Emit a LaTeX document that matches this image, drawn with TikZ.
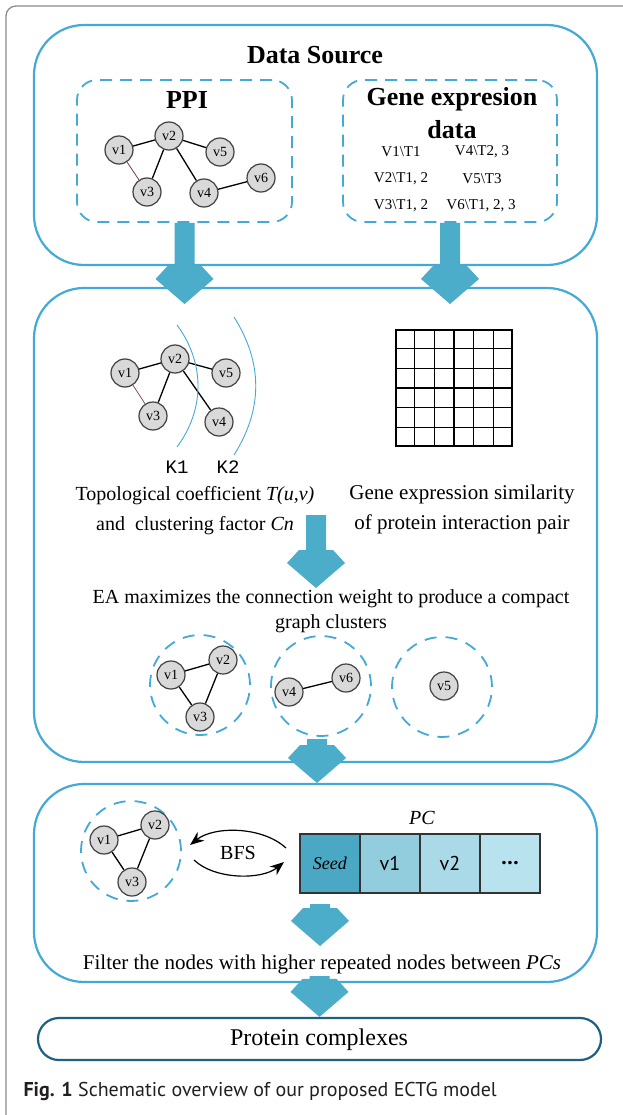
\documentclass[tikz,border=0pt]{standalone}
\usepackage{fontspec}
\setmainfont{Liberation Serif}
\setsansfont{PT Sans}
\setmonofont{Liberation Mono}
\usepackage{tikz}
\usetikzlibrary{calc,positioning,arrows.meta}
\definecolor{boxblue}{HTML}{43A9D6}
\definecolor{arrowblue}{HTML}{4BADC9}
\definecolor{edgered}{HTML}{7A3B3B}
\definecolor{seedcol}{HTML}{4AA8C4}
\definecolor{pcone}{HTML}{92CDDE}
\definecolor{pctwo}{HTML}{AADAE8}
\definecolor{pcdots}{HTML}{B8E2ED}
\definecolor{finalteal}{HTML}{1F5F7F}
\definecolor{framegray}{HTML}{8A8A8A}
\definecolor{captext}{HTML}{231F20}
\newcommand{\fs}[1]{\fontsize{#1}{#1}\selectfont}
\newcommand{\drawFatArrow}[2]
{
	\fill[arrowblue] ($(#1)+(-10,0)$) -- ($(#2)+(-10,-38)$) -- ($(#2)+(-17,-38)$) -- ($(#2)+(-29,-25)$) -- (#2)
		-- ($(#2)+(29,-25)$) -- ($(#2)+(17,-38)$) -- ($(#2)+(10,-38)$) -- ($(#1)+(10,0)$) -- cycle;
}
\begin{document}
\begin{tikzpicture}[x=1pt,y=-1pt,
	bigbox/.style={draw=boxblue,line width=2.2,rounded corners=50,minimum width=563,inner sep=0},
	dashbox/.style={draw=boxblue,line width=1.8,dash pattern=on 12pt off 8pt,rounded corners=20,minimum width=215,minimum height=142,inner sep=0},
	ring/.style={circle,draw=boxblue,line width=1.8,dash pattern=on 12pt off 9pt,minimum size=100,inner sep=0},
	vnode/.style={circle,draw=black!75,fill=black!15,line width=1.2,minimum size=28,inner sep=0,font=\fs{14}},
	link/.style={line width=1.3},
	thinlink/.style={line width=0.7,color=edgered},
	karc/.style={line width=0.9,color=boxblue},
	pccell/.style={draw=black!80,line width=1.5,minimum width=60,minimum height=59,inner sep=0,outer sep=0},
	bfsarrow/.style={line width=1.2,-{Stealth[length=14pt,width=11pt]}},
	datatext/.style={font=\fs{15}}]
\useasboundingbox (0,0) rectangle (622,1115);
\draw[framegray,line width=1.3,rounded corners=10] (6,1120) -- (6,6) -- (630,6);

% data source
\node[bigbox,minimum height=240] (source) at (315.5,145) {};
\node[font=\fs{26}\bfseries] (sourcetitle) at (315,55) {Data Source};
\node[dashbox] (ppi) at (184.5,151) {};
\node[dashbox,minimum width=214] (gene) at (450,151) {};
\node[font=\fs{26}\bfseries] (ppititle) at (187,100) {PPI};
\node[font=\fontsize{26}{33}\selectfont\bfseries,align=center] (genetitle) at (452,113) {Gene expresion\\data};

\node[vnode] (p1) at (119,150) {v1};
\node[vnode] (p2) at (169,136) {v2};
\node[vnode] (p5) at (220,152) {v5};
\node[vnode] (p6) at (261,178) {v6};
\node[vnode] (p3) at (147,192) {v3};
\node[vnode] (p4) at (204,193) {v4};
\draw[link] (p1) -- (p2) (p2) -- (p3) (p2) -- (p4) (p2) -- (p5) (p4) -- (p6);
\draw[thinlink] (p1) -- (p3);

\node[datatext] (d1) at (401,152) {V1\textbackslash T1};
\node[datatext] (d4) at (482,152) {V4\textbackslash T2, 3};
\node[datatext] (d2) at (401,179) {V2\textbackslash T1, 2};
\node[datatext] (d5) at (482,179) {V5\textbackslash T3};
\node[datatext] (d3) at (401,206) {V3\textbackslash T1, 2};
\node[datatext] (d6) at (481,206) {V6\textbackslash T1, 2, 3};

% scoring
\node[bigbox,minimum height=474] (scoring) at (315.5,525) {};
\node[vnode] (k1) at (125,373) {v1};
\node[vnode] (k2) at (175,359) {v2};
\node[vnode] (k5) at (226,373) {v5};
\node[vnode] (k3) at (153,416) {v3};
\node[vnode] (k4) at (219,422) {v4};
\draw[link] (k1) -- (k2) (k2) -- (k3) (k2) -- (k4) (k2) -- (k5);
\draw[thinlink] (k1) -- (k3);
\draw[karc] (177,325) .. controls (205,363) and (205,409) .. (177,447);
\draw[karc] (234,317) .. controls (263,363) and (263,409) .. (234,455);
\node[font=\ttfamily\fs{19}] (kone) at (177,467) {K1};
\node[font=\ttfamily\fs{19}] (ktwo) at (228,467) {K2};
\node[font=\fontsize{20}{30}\selectfont,align=center] (topo) at (195,511) {Topological coefficient \textit{T(u,v)}\\and\ \ clustering factor \textit{Cn}};

\node[draw,line width=2.2,minimum size=116,inner sep=0] (simgrid) at (454,388) {};
\foreach \i in {1,...,5}
{
	\draw[line width=1.1] ($(simgrid.north west)!\i/6!(simgrid.north east)$) -- ($(simgrid.south west)!\i/6!(simgrid.south east)$);
	\draw[line width=1.1] ($(simgrid.north west)!\i/6!(simgrid.south west)$) -- ($(simgrid.north east)!\i/6!(simgrid.south east)$);
}
\node[font=\fontsize{21}{30}\selectfont,align=center] (simtext) at (462,509) {Gene expression similarity\\of protein interaction pair};

\node[font=\fontsize{20}{25}\selectfont,align=center] (eatext) at (331,611) {EA maximizes the connection weight to produce a compact\\graph clusters};
\node[ring] (g1) at (200,685) {};
\node[ring] (g2) at (321,686) {};
\node[ring] (g3) at (442,687) {};
\node[vnode] (c1) at (171,675) {v1};
\node[vnode] (c2) at (223,660) {v2};
\node[vnode] (c3) at (200,717) {v3};
\node[vnode] (c4) at (289,692) {v4};
\node[vnode] (c6) at (346,678) {v6};
\node[vnode] (c5) at (444,686) {v5};
\draw[link] (c1) -- (c2) (c1) -- (c3) (c2) -- (c3) (c4) -- (c6);

% expansion
\node[bigbox,minimum height=198] (expand) at (315.5,883) {};
\node[ring] (g0) at (131,851) {};
\node[vnode] (b1) at (104,840) {v1};
\node[vnode] (b2) at (155,825) {v2};
\node[vnode] (b3) at (132,882) {v3};
\draw[link] (b1) -- (b2) (b1) -- (b3) (b2) -- (b3);

\coordinate (bfsR1) at (286,848);
\coordinate (bfsL1) at (190,845);
\coordinate (bfsL2) at (194,860);
\coordinate (bfsR2) at (284,862);
\draw[bfsarrow] (bfsR1) .. controls (262,826) and (214,826) .. (bfsL1);
\draw[bfsarrow] (bfsL2) .. controls (215,880) and (262,880) .. (bfsR2);
\node[font=\fs{20}] (bfs) at (238,853) {BFS};

\node[pccell,fill=seedcol,font=\fs{18}] (seed) at (330,863.5) {\textit{Seed}};
\node[pccell,fill=pcone,font=\sffamily\fs{20},right=0pt of seed] (pc1) {v1};
\node[pccell,fill=pctwo,font=\sffamily\fs{20},right=0pt of pc1] (pc2) {v2};
\node[pccell,fill=pcdots,font=\sffamily\fs{22}\bfseries,right=0pt of pc2] (pc3) {\ldots};
\node[font=\fs{20}\itshape] (pclabel) at (422,818) {PC};
\node[font=\fs{21}] (filter) at (322,964) {Filter the nodes with higher repeated nodes between \textit{PCs}};

% result
\node[draw=finalteal,line width=2.2,rounded corners=21,minimum width=563,minimum height=42,inner sep=0] (final) at (319.5,1039) {};
\node[font=\fs{24}] (finaltext) at (319,1040) {Protein complexes};

% flow arrows
\coordinate (tip1) at (184.5,304);
\coordinate (tip2) at (450,304);
\coordinate (src3) at (316,515);
\coordinate (tip3) at (316,588);
\coordinate (src4) at (317,739);
\coordinate (tip4) at (317,783);
\coordinate (src5) at (320,904);
\coordinate (tip5) at (320,946);
\coordinate (src6) at (319.5,976);
\drawFatArrow{ppi.south}{tip1}
\drawFatArrow{gene.south}{tip2}
\drawFatArrow{src3}{tip3}
\drawFatArrow{src4}{tip4}
\drawFatArrow{src5}{tip5}
\drawFatArrow{src6}{final.north}

\node[anchor=west,font=\sffamily\fs{20},text=captext] (caption) at (20,1091) {\textbf{Fig. 1} Schematic overview of our proposed ECTG model};
\end{tikzpicture}
\end{document}
